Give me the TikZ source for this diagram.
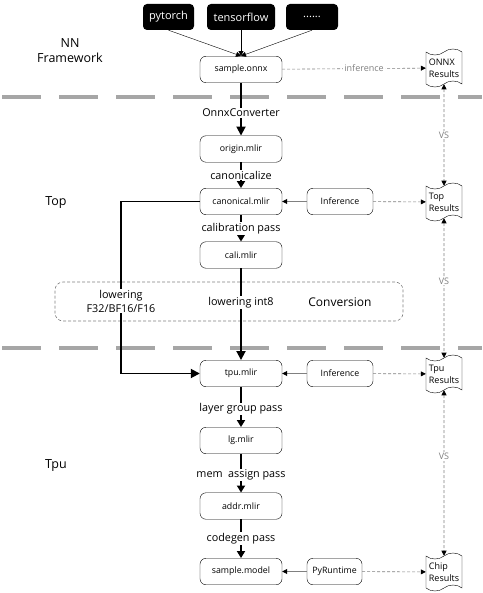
\documentclass[tikz,border=0pt]{standalone}
\usepackage{fontspec}
\setmainfont{Open Sans}
\usetikzlibrary{arrows.meta,shapes.symbols}

\begin{document}
\begin{tikzpicture}[x=1pt,y=-1pt]
\tikzstyle{box} = [draw, rounded corners=6pt, minimum width=82pt, minimum height=26.5pt, inner sep=1pt, font=\fontsize{8.8}{10}\selectfont]
\tikzstyle{fwbox} = [fill=black, text=white, rounded corners=4pt, minimum height=26pt, inner sep=1pt, font=\fontsize{11}{12}\selectfont]
\tikzstyle{result} = [draw, tape, tape bend top=in and out, tape bend bottom=in and out, tape bend height=6pt, minimum width=36pt, minimum height=38pt, inner sep=1pt, align=left, font=\fontsize{9}{12}\selectfont]
\tikzstyle{lbl} = [fill=white, inner sep=1pt, font=\fontsize{10.8}{14}\selectfont]
\tikzstyle{small} = [font=\fontsize{9}{10}\selectfont]
\tikzstyle{stage} = [align=center, font=\fontsize{12.5}{15}\selectfont]
\tikzstyle{flow} = [line width=1.8pt, -{Triangle[length=7pt,width=8pt]}]
\tikzstyle{feed} = [gray, line width=0.8pt, -{Triangle[length=5pt,width=5pt,color=black]}]
\tikzstyle{infer} = [gray, line width=0.6pt, dash pattern=on 3pt off 2pt, -{Triangle[length=5pt,width=5pt,color=black]}]
\tikzstyle{vs} = [gray, line width=0.6pt, dash pattern=on 3pt off 2pt, {Triangle[length=5pt,width=5pt,color=black]}-{Triangle[length=5pt,width=5pt,color=black]}]
\tikzstyle{sep} = [gray!70, line width=3.5pt, dash pattern=on 39pt off 18pt]

\useasboundingbox (0,0) rectangle (482,593);

% layer separators
\draw[sep] (2,97) -- (482,97);
\draw[sep] (2,348) -- (482,348);

\node[stage] (nn) at (70,51) {NN\\Framework};
\node[stage] (top) at (56,203) {Top};
\node[stage] (tpu) at (56,466) {Tpu};

% conversion area
\node[draw, gray, line width=0.6pt, dash pattern=on 3pt off 2pt, rounded corners=8pt, minimum width=348pt, minimum height=39pt] (conv) at (229,301.5) {};
\node[font=\fontsize{12}{13}\selectfont] (convtxt) at (340,302) {Conversion};

% frameworks
\node[fwbox, minimum width=51pt] (pytorch) at (168.5,17) {pytorch};
\node[fwbox, minimum width=68pt] (tensorflow) at (241,17) {tensorflow};
\node[fwbox, minimum width=52pt] (others) at (312,17) {......};

% main chain
\node[box] (onnx) at (241,69.5) {sample.onnx};
\node[box] (origin) at (241,149) {origin.mlir};
\node[box] (canonical) at (241,201.5) {canonical.mlir};
\node[box] (cali) at (241,255) {cali.mlir};
\node[box] (tpumlir) at (241,373.5) {tpu.mlir};
\node[box] (lg) at (241,440.5) {lg.mlir};
\node[box] (addr) at (241,506) {addr.mlir};
\node[box] (model) at (241,571.5) {sample.model};

\node[box, minimum width=66pt] (inftop) at (340,201.5) {Inference};
\node[box, minimum width=66pt] (inftpu) at (340,373.5) {Inference};
\node[box, minimum width=55pt] (pyrt) at (334.5,571.5) {PyRuntime};

% results
\node[result] (onnxres) at (444,68) {ONNX\\Results};
\node[result] (topres) at (444,202) {Top\\Results};
\node[result] (tpures) at (444,374) {Tpu\\Results};
\node[result] (chipres) at (444,572) {Chip\\Results};

\foreach \f in {pytorch,tensorflow,others}
  \draw[-{Triangle[length=5pt,width=5pt]}] (\f.south) -- (onnx.north);

\draw[flow, -{Triangle[length=9pt,width=9pt]}] (onnx) -- node[lbl, pos=.57]{OnnxConverter} (origin);
\draw[flow] (origin) -- node[lbl]{canonicalize} (canonical);
\draw[flow] (canonical) -- node[lbl]{calibration pass} (cali);
\draw[flow, -{Triangle[length=9pt,width=9pt]}] (cali) -- node[lbl, pos=.37]{lowering int8} (tpumlir);
\draw[flow] (tpumlir) -- node[lbl, pos=.55]{layer group pass} (lg);
\draw[flow] (lg) -- node[lbl, pos=.55]{mem\ \ assign pass} (addr);
\draw[flow] (addr) -- node[lbl]{codegen pass} (model);

\coordinate (lowx) at (121,201.5);
\draw[flow, -{Triangle[length=9pt,width=9pt]}] (canonical.west) -- (lowx) |- node[lbl, pos=.29, align=center]{lowering\\F32/BF16/F16} (tpumlir.west);

\draw[feed] (inftop) -- (canonical);
\draw[feed] (inftpu) -- (tpumlir);
\draw[feed] (pyrt) -- (model);

\draw[infer] (onnx) -- node[lbl, small, pos=.57]{inference} (onnxres);
\draw[infer] (inftop) -- (topres);
\draw[infer] (inftpu) -- (tpures);
\draw[infer] (pyrt) -- (chipres);

\draw[vs] (onnxres) -- node[lbl, small]{VS} (topres);
\draw[vs] (topres) -- node[lbl, small, pos=.45]{VS} (tpures);
\draw[vs] (tpures) -- node[lbl, small, pos=.4]{VS} (chipres);
\end{tikzpicture}
\end{document}
